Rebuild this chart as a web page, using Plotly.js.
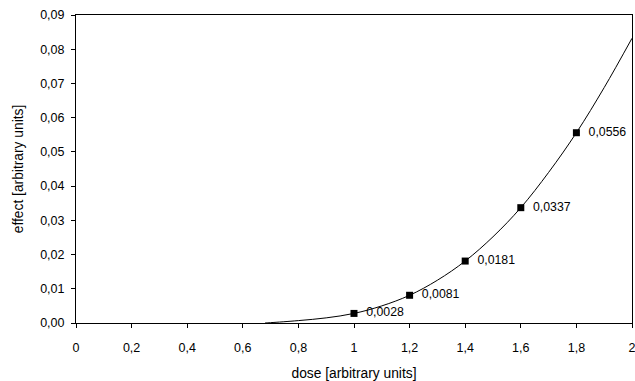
<!DOCTYPE html>
<html>
<head>
<meta charset="utf-8">
<script src="https://cdn.plot.ly/plotly-3.0.1.min.js"></script>
<style>html,body{margin:0;padding:0;background:#fff}#chart{width:635px;height:381px}</style>
</head>
<body>
<div id="chart"></div>
<script>
// Curve
const curveDose = [0.68, 0.7, 0.8, 0.9, 1.0, 1.1, 1.2, 1.3, 1.4, 1.5, 1.6, 1.7, 1.8, 1.9, 2.0];
const curveEffect = [0.0, 0.0001, 0.0007, 0.0015, 0.0028, 0.0050, 0.0081, 0.0125, 0.0181, 0.0252, 0.0337, 0.0440, 0.0556, 0.0688, 0.0832];
// Marked points
const pointDose = [1.0, 1.2, 1.4, 1.6, 1.8];
const pointEffect = [0.0028, 0.0081, 0.0181, 0.0337, 0.0556];
const pointLabels = ["0,0028", "0,0081", "0,0181", "0,0337", "0,0556"];
const xTicks = [0, 0.2, 0.4, 0.6, 0.8, 1, 1.2, 1.4, 1.6, 1.8, 2];
const xTickText = ["0", "0,2", "0,4", "0,6", "0,8", "1", "1,2", "1,4", "1,6", "1,8", "2"];
const yTicks = [0, 0.01, 0.02, 0.03, 0.04, 0.05, 0.06, 0.07, 0.08, 0.09];
const yTickText = ["0,00", "0,01", "0,02", "0,03", "0,04", "0,05", "0,06", "0,07", "0,08", "0,09"];

const font = {family: "Liberation Sans, Arial, sans-serif", color: "#000"};

const traces = [
  {x: curveDose, y: curveEffect, mode: "lines", line: {color: "#000", width: 1, shape: "spline"}, hoverinfo: "skip"},
  {x: pointDose, y: pointEffect, mode: "markers+text", text: pointLabels.map(t => "  " + t),
   textposition: "middle right", textfont: Object.assign({}, font, {size: 12.3}),
   marker: {symbol: "square", size: 7, color: "#000"}, cliponaxis: false}
];

const layout = {
  width: 635, height: 381,
  margin: {l: 76, r: 3, t: 15, b: 58},
  paper_bgcolor: "#fff", plot_bgcolor: "#fff",
  showlegend: false,
  font: Object.assign({}, font, {size: 12.5}),
  xaxis: {
    range: [0, 2], tickvals: xTicks, ticktext: xTickText,
    ticks: "outside", ticklen: 4, tickcolor: "#000", tickwidth: 1,
    showline: true, linecolor: "#000", linewidth: 1, mirror: true,
    showgrid: false, zeroline: false, ticklabeloverflow: "allow",
    ticklabelstandoff: 9,
    tickfont: Object.assign({}, font, {size: 12.5}),
    title: {text: "dose [arbitrary units]", font: Object.assign({}, font, {size: 13.8}), standoff: 15}
  },
  yaxis: {
    range: [0, 0.09], tickvals: yTicks, ticktext: yTickText,
    ticks: "outside", ticklen: 4, tickcolor: "#000", tickwidth: 1,
    showline: true, linecolor: "#000", linewidth: 1, mirror: true,
    showgrid: false, zeroline: false,
    ticklabelstandoff: 4,
    tickfont: Object.assign({}, font, {size: 12.5}),
    title: {text: "effect [arbitrary units]", font: Object.assign({}, font, {size: 13.8}), standoff: 13}
  }
};

Plotly.newPlot("chart", traces, layout, {displayModeBar: false, staticPlot: true});
</script>
</body>
</html>
